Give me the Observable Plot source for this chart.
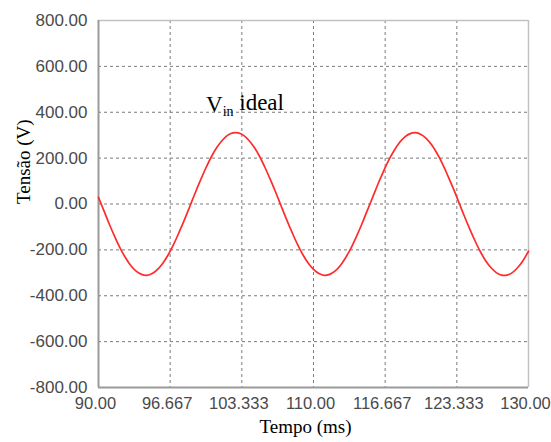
<!DOCTYPE html>
<html>
<head>
<meta charset="utf-8">
<script src="https://cdn.jsdelivr.net/npm/d3@7"></script>
<script src="https://cdn.jsdelivr.net/npm/@observablehq/plot@0.6"></script>
<style>
  html, body { margin: 0; padding: 0; background: #fff; }
  #chart svg { display: block; }
</style>
</head>
<body>
<div id="chart"></div>
<script>
// Sample times (ms)
const timeMs = [
  90.0, 90.5, 91.0, 91.5, 92.0, 92.5, 93.0, 93.5, 94.0, 94.5,
  95.0, 95.5, 96.0, 96.5, 97.0, 97.5, 98.0, 98.5, 99.0, 99.5,
  100.0, 100.5, 101.0, 101.5, 102.0, 102.5, 103.0, 103.5, 104.0, 104.5,
  105.0, 105.5, 106.0, 106.5, 107.0, 107.5, 108.0, 108.5, 109.0, 109.5,
  110.0, 110.5, 111.0, 111.5, 112.0, 112.5, 113.0, 113.5, 114.0, 114.5,
  115.0, 115.5, 116.0, 116.5, 117.0, 117.5, 118.0, 118.5, 119.0, 119.5,
  120.0, 120.5, 121.0, 121.5, 122.0, 122.5, 123.0, 123.5, 124.0, 124.5,
  125.0, 125.5, 126.0, 126.5, 127.0, 127.5, 128.0, 128.5, 129.0, 129.5,
  130.0
];

// Ideal input voltage Vin (V)
const vinIdeal = [
  29, -29, -87, -141, -191, -233, -268, -293, -307, -311,
  -303, -285, -257, -220, -175, -123, -68, -10, 49, 105,
  158, 206, 246, 277, 299, 310, 310, 299, 277, 246,
  206, 158, 105, 49, -10, -68, -123, -175, -220, -257,
  -285, -303, -311, -307, -293, -268, -233, -191, -141, -87,
  -29, 29, 87, 141, 191, 233, 268, 293, 307, 311,
  303, 285, 257, 220, 175, 123, 68, 10, -49, -105,
  -158, -206, -246, -277, -299, -310, -310, -299, -277, -246,
  -206
];

// Axis ticks and their printed labels
const xTicks = [90, 96.667, 103.333, 110, 116.667, 123.333, 130];
const xTickLabels = ["90.00", "96.667", "103.333", "110.00", "116.667", "123.333", "130.00"];
const yTicks = [-800, -600, -400, -200, 0, 200, 400, 600, 800];
const yTickLabels = ["-800.00", "-600.00", "-400.00", "-200.00", "0.00", "200.00", "400.00", "600.00", "800.00"];

const xTitle = "Tempo (ms)";
const yTitle = "Tensão (V)";
const seriesLabel = {x: 100, y: 400, text: "Vin ideal"};

const rows = timeMs.map((t, i) => ({t, v: vinIdeal[i]}));

const serif = "'Liberation Serif', 'Times New Roman', serif";
const sans = "'Liberation Sans', Arial, sans-serif";

const chart = Plot.plot({
  width: 551,
  height: 442,
  marginLeft: 98,
  marginRight: 23,
  marginTop: 20,
  marginBottom: 55,
  style: {fontFamily: sans, fontSize: "17px", background: "#fff", overflow: "visible"},
  x: {domain: [90, 130]},
  y: {domain: [-800, 800]},
  marks: [
    // dashed grid
    Plot.gridX(xTicks.slice(1, -1), {stroke: "#7a7a7a", strokeOpacity: 1, strokeWidth: 1, strokeDasharray: "3,3"}),
    Plot.gridY(yTicks.slice(1, -1), {stroke: "#7a7a7a", strokeOpacity: 1, strokeWidth: 1, strokeDasharray: "3,3"}),
    // plot border
    Plot.ruleY([800], {stroke: "#c2c2c2", strokeWidth: 1.5}),
    Plot.ruleX([130], {stroke: "#c2c2c2", strokeWidth: 1.5}),
    Plot.ruleY([-800], {stroke: "#9a9a9a", strokeWidth: 2}),
    Plot.ruleX([90], {stroke: "#9a9a9a", strokeWidth: 2}),
    // axes
    Plot.axisX(xTicks, {
      tickSize: 0, tickPadding: 10, dx: -3, fontSize: 16.5, color: "#4a4a4a", label: null,
      tickFormat: d => xTickLabels[xTicks.indexOf(d)]
    }),
    Plot.axisY(yTicks, {
      tickSize: 0, tickPadding: 11, color: "#4a4a4a", label: null,
      tickFormat: d => yTickLabels[yTicks.indexOf(d)]
    }),
    // axis titles
    Plot.text([xTitle], {
      frameAnchor: "bottom", dx: -8, dy: 45, lineAnchor: "bottom",
      fontFamily: serif, fontSize: 19, fill: "#000"
    }),
    Plot.text([yTitle], {
      frameAnchor: "left", rotate: -90, dx: -75,
      fontFamily: serif, fontSize: 19, fill: "#000"
    }),
    // waveform
    Plot.line(rows, {x: "t", y: "v", stroke: "#ff2b2b", strokeWidth: 1.7, curve: "catmull-rom"}),
    // series annotation
    Plot.text([seriesLabel], {
      x: "x", y: "y", text: "text", textAnchor: "start", lineAnchor: "bottom",
      fontFamily: serif, fontSize: 23, fill: "#000"
    })
  ]
});

// Render "in" as a subscript of V
d3.select(chart).selectAll("text")
  .filter(function () { return this.textContent === seriesLabel.text; })
  .each(function () {
    const t = d3.select(this);
    t.text(null);
    t.append("tspan").text("V");
    t.append("tspan").attr("dy", "0.3em").attr("font-size", "14").text("in");
    t.append("tspan").attr("dy", "-0.3em").text(" ideal");
  });

document.getElementById("chart").append(chart);
</script>
</body>
</html>
